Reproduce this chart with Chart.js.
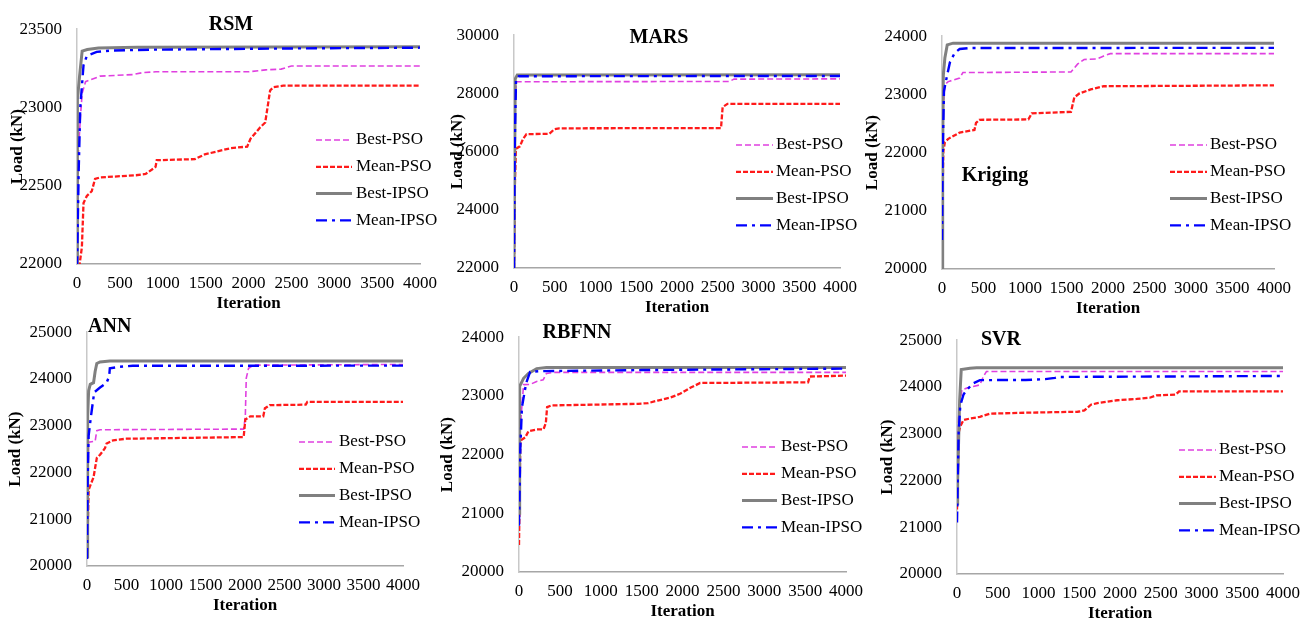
<!DOCTYPE html>
<html>
<head>
<meta charset="utf-8">
<script src="https://cdn.jsdelivr.net/npm/chart.js@4.4.0/dist/chart.umd.min.js"></script>
<style>
body { margin: 0; background: #fff; }
#wrap { position: relative; width: 1314px; height: 622px; overflow: hidden; background: #fff; }
canvas { position: absolute; }
</style>
</head>
<body>
<div id="wrap"></div>
<script>
// legend / series names
var seriesNames = ["Best-PSO", "Mean-PSO", "Best-IPSO", "Mean-IPSO"];
var panelTitles = ["RSM", "MARS", "Kriging", "ANN", "RBFNN", "SVR"];
// y axis range of each panel
var yMins = [22000, 22000, 20000, 20000, 20000, 20000];
var yMaxs = [23500, 30000, 24000, 25000, 24000, 25000];
var ySteps = [500, 2000, 1000, 1000, 1000, 1000];
var xMax = 4000, xStep = 500;

// [iteration, load (kN)]
var rsmBestPSO = [[0,22000],[15,22700],[40,22940],[60,23090],[100,23165],[270,23200],[650,23210],[760,23222],[920,23228],[2000,23228],[2200,23240],[2380,23245],[2500,23265],[4000,23265]];
var rsmMeanPSO = [[0,21800],[31,22000],[57,22108],[76,22390],[115,22435],[172,22465],[210,22543],[267,22553],[687,22567],[800,22575],[916,22620],[930,22663],[1374,22670],[1489,22700],[1794,22740],[1985,22750],[2023,22800],[2137,22873],[2195,22904],[2252,23108],[2290,23129],[2405,23139],[4000,23140]];
var rsmBestIPSO = [[0,21950],[5,23050],[30,23200],[60,23360],[120,23370],[250,23380],[700,23385],[4000,23388]];
var rsmMeanIPSO = [[0,21980],[20,22600],[38,23000],[76,23270],[115,23330],[230,23355],[380,23363],[840,23369],[2500,23377],[4000,23382]];

var marsBestPSO = [[0,22500],[10,27500],[30,28400],[2640,28410],[2700,28490],[4000,28500]];
var marsMeanPSO = [[0,22000],[12,25000],[24,26100],[72,26180],[112,26440],[153,26600],[434,26610],[494,26767],[554,26800],[2540,26810],[2560,27530],[2620,27640],[4000,27640]];
var marsBestIPSO = [[0,22000],[15,28500],[40,28630],[4000,28640]];
var marsMeanIPSO = [[0,22000],[8,26000],[25,28500],[60,28590],[4000,28600]];

var krigBestPSO = [[0,21500],[16,22780],[35,23170],[75,23220],[213,23280],[252,23375],[1554,23386],[1633,23520],[1712,23600],[1870,23610],[1949,23660],[2028,23700],[4000,23700]];
var krigMeanPSO = [[0,20300],[5,20350],[10,21500],[16,22016],[35,22180],[75,22236],[213,22345],[391,22389],[410,22510],[450,22564],[1041,22570],[1081,22674],[1554,22701],[1594,22948],[1653,23014],[1791,23085],[1949,23140],[4000,23156]];
var krigBestIPSO = [[0,20000],[8,22000],[16,23330],[35,23630],[63,23850],[134,23880],[4000,23880]];
var krigMeanIPSO = [[0,20500],[8,21960],[24,23060],[55,23280],[95,23550],[154,23715],[213,23780],[331,23797],[4000,23800]];

var annBestPSO = [[0,20500],[8,21490],[21,22650],[103,22668],[124,22893],[165,22914],[1983,22928],[2004,23200],[2016,24020],[2045,24227],[2107,24295],[4000,24310]];
var annMeanPSO = [[0,20150],[21,21630],[83,21900],[124,22310],[165,22380],[227,22517],[248,22620],[331,22688],[496,22722],[1983,22757],[2004,23133],[2066,23200],[2231,23200],[2252,23372],[2314,23440],[2769,23450],[2789,23509],[4000,23509]];
var annBestIPSO = [[0,20200],[8,23200],[21,23750],[41,23885],[83,23920],[103,24160],[124,24330],[165,24365],[289,24384],[4000,24385]];
var annMeanIPSO = [[0,20150],[8,21800],[21,22790],[50,23200],[91,23714],[165,23817],[248,23919],[281,24056],[289,24227],[413,24261],[579,24282],[4000,24285]];

var rbfBestPSO = [[0,21500],[10,22370],[56,23192],[136,23195],[216,23247],[296,23274],[336,23383],[416,23400],[4000,23400]];
var rbfMeanPSO = [[0,20460],[16,22237],[76,22292],[116,22400],[216,22428],[300,22430],[328,22537],[344,22810],[396,22838],[1456,22865],[1576,22876],[1696,22920],[1856,22974],[1976,23040],[2096,23138],[2216,23220],[3536,23231],[3556,23330],[4000,23345]];
var rbfBestIPSO = [[0,21000],[8,23165],[56,23300],[116,23383],[216,23465],[336,23482],[4000,23482]];
var rbfMeanIPSO = [[0,20790],[16,22100],[36,22810],[88,23220],[136,23410],[256,23422],[1500,23440],[4000,23465]];

var svrBestPSO = [[0,21500],[10,22500],[20,23360],[40,23700],[60,23941],[120,23975],[200,24010],[281,24044],[321,24214],[361,24331],[4000,24331]];
var svrMeanPSO = [[0,21380],[20,23020],[40,23156],[80,23292],[160,23326],[281,23361],[401,23429],[842,23449],[1480,23470],[1563,23497],[1643,23620],[1723,23654],[1964,23716],[2204,23743],[2365,23770],[2445,23818],[2685,23839],[2725,23907],[4000,23907]];
var svrBestIPSO = [[0,21500],[8,22000],[32,23700],[52,24372],[160,24400],[240,24413],[4000,24413]];
var svrMeanIPSO = [[0,21100],[20,23020],[40,23600],[80,23840],[120,23940],[200,24078],[281,24146],[842,24150],[1082,24167],[1202,24194],[1242,24214],[4000,24235]];

var panelSeries = [
  [rsmBestPSO, rsmMeanPSO, rsmBestIPSO, rsmMeanIPSO],
  [marsBestPSO, marsMeanPSO, marsBestIPSO, marsMeanIPSO],
  [krigBestPSO, krigMeanPSO, krigBestIPSO, krigMeanIPSO],
  [annBestPSO, annMeanPSO, annBestIPSO, annMeanIPSO],
  [rbfBestPSO, rbfMeanPSO, rbfBestIPSO, rbfMeanIPSO],
  [svrBestPSO, svrMeanPSO, svrBestIPSO, svrMeanIPSO]
];

// line styles for the four series
var lineColors = ["#e040e0", "#ff1a1a", "#808080", "#0000ff"];
var lineWidths = [1.6, 2.3, 3, 2.4];
var lineDashes = [[6, 3], [5, 2], [], [11, 5, 3, 5]];
var drawOrder = [3, 2, 1, 0];

// page layout: plot box, y title offset, panel title, legend
var layout = [
  { L: 77,  T: 19,  R: 426,  B: 264, yOff: 59, title: [231, 25, "center"],  leg: [316, 352, 356, 140] },
  { L: 514, T: 25,  R: 846,  B: 268, yOff: 56, title: [659, 38, "center"],  leg: [736, 773, 776, 145] },
  { L: 942, T: 26,  R: 1280, B: 269, yOff: 69, title: [995, 176, "center"], leg: [1170, 1207, 1210, 145] },
  { L: 87,  T: 322, R: 409,  B: 566, yOff: 71, title: [88, 327, "left"],    leg: [299, 335, 339, 442] },
  { L: 519, T: 327, R: 852,  B: 572, yOff: 71, title: [577, 333, "center"], leg: [742, 777, 781, 447] },
  { L: 957, T: 330, R: 1289, B: 574, yOff: 69, title: [1001, 340, "center"], leg: [1179, 1216, 1219, 450] }
];

var SERIF = '"Liberation Serif", "Times New Roman", serif';
Chart.defaults.font.family = SERIF;
Chart.defaults.color = "#000";

var AX_W = 85, AX_H = 50, PAD_T = 15, PAD_R = 20;

// draws the panel name and the legend box
var overlay = {
  id: "overlay",
  afterDraw: function (chart, args, opts) {
    var ctx = chart.ctx;
    var lay = opts.lay;
    var ox = lay.L - AX_W, oy = lay.T - PAD_T;
    ctx.save();
    ctx.fillStyle = "#000";
    ctx.textBaseline = "middle";
    ctx.font = "bold 20px " + SERIF;
    ctx.textAlign = lay.title[2];
    ctx.fillText(opts.name, lay.title[0] - ox, lay.title[1] - oy);

    ctx.font = "17px " + SERIF;
    ctx.textAlign = "left";
    for (var i = 0; i < seriesNames.length; i++) {
      var y = lay.leg[3] + i * 26.8 - oy;
      ctx.beginPath();
      ctx.strokeStyle = lineColors[i];
      ctx.lineWidth = lineWidths[i];
      ctx.setLineDash(lineDashes[i]);
      ctx.moveTo(lay.leg[0] - ox, y);
      ctx.lineTo(lay.leg[1] - ox, y);
      ctx.stroke();
      ctx.setLineDash([]);
      ctx.fillText(seriesNames[i], lay.leg[2] - ox, y);
    }
    ctx.restore();
  }
};

var plainNum = function (v) { return String(v); };

var wrap = document.getElementById("wrap");

for (var p = 0; p < 6; p++) {
  var lay = layout[p];
  var cv = document.createElement("canvas");
  var w = (lay.R - lay.L) + AX_W + PAD_R;
  var h = (lay.B - lay.T) + PAD_T + AX_H;
  cv.width = w;
  cv.height = h;
  cv.style.left = (lay.L - AX_W) + "px";
  cv.style.top = (lay.T - PAD_T) + "px";
  cv.style.width = w + "px";
  cv.style.height = h + "px";
  wrap.appendChild(cv);

  var datasets = [];
  for (var s = 0; s < 4; s++) {
    datasets.push({
      label: seriesNames[s],
      data: panelSeries[p][s].map(function (d) { return { x: d[0], y: d[1] }; }),
      borderColor: lineColors[s],
      borderWidth: lineWidths[s],
      borderDash: lineDashes[s],
      pointRadius: 0,
      tension: 0,
      fill: false,
      order: drawOrder[s]
    });
  }

  var yPad = AX_W - lay.yOff - 10.2;

  new Chart(cv, {
    type: "line",
    data: { datasets: datasets },
    plugins: [overlay],
    options: {
      responsive: false,
      animation: false,
      devicePixelRatio: 1,
      layout: { padding: { left: 0, top: PAD_T, right: PAD_R, bottom: 0 } },
      plugins: {
        legend: { display: false },
        tooltip: { enabled: false },
        overlay: { lay: lay, name: panelTitles[p] }
      },
      scales: {
        x: {
          type: "linear",
          min: 0,
          max: xMax,
          grid: { display: false, drawTicks: false },
          border: { display: true, color: "#a6a6a6", width: 1.5 },
          ticks: { stepSize: xStep, padding: 9, autoSkip: false, maxRotation: 0, font: { size: 17 }, color: "#000", callback: plainNum },
          title: { display: true, text: "Iteration", font: { size: 17, weight: "bold" }, color: "#000", padding: { top: 0, bottom: 0.5 } },
          afterFit: function (sc) { sc.height = AX_H; }
        },
        y: {
          min: yMins[p],
          max: yMaxs[p],
          grid: { display: false, drawTicks: false },
          border: { display: true, color: "#c8c8c8", width: 1.5 },
          ticks: { stepSize: ySteps[p], padding: 15, font: { size: 17 }, color: "#000", callback: plainNum },
          title: { display: true, text: "Load (kN)", font: { size: 17, weight: "bold" }, color: "#000", padding: yPad },
          afterFit: function (sc) { sc.width = AX_W; }
        }
      }
    }
  });
}
</script>
</body>
</html>
